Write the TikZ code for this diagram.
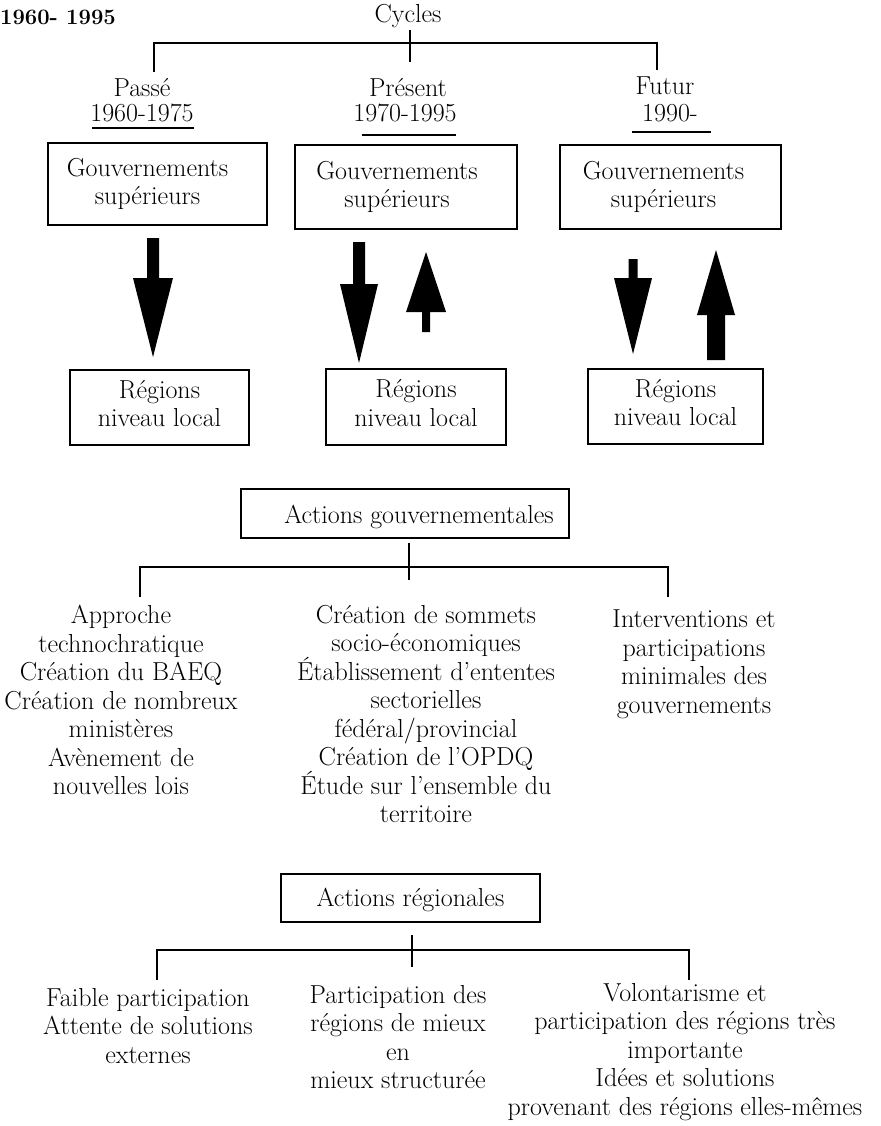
\documentclass[tikz,border=0pt]{standalone}
\usepackage{tikz}
\usetikzlibrary{calc}

\tikzset{
  trait/.style={line width=2.4pt},
  boite/.style={draw,line width=2.4pt,inner sep=0pt},
  texte/.style={align=center,inner sep=0pt},
}
% fleche pleine : x, y du talon, y de la base de la pointe, y de la pointe, largeur du corps, largeur de la pointe
\newcommand{\fleche}[6]{%
  \fill (#1-#5/2,#2) -- (#1+#5/2,#2) -- (#1+#5/2,#3) -- (#1+#6/2,#3)
    -- (#1,#4) -- (#1-#6/2,#3) -- (#1-#5/2,#3) -- cycle;}

\begin{document}
\begin{tikzpicture}[x=1pt,y=-1pt,font=\fontsize{26}{28.5}\selectfont]
\useasboundingbox (0,0) rectangle (880,1126);

\node[texte,anchor=base west,font=\fontsize{22}{24}\selectfont\bfseries] (titre) at (0,25) {1960- 1995};
\node[texte] (cycles) at (408,16) {Cycles};

% les trois cycles
\coordinate (haut) at (410,43);
\coordinate (c1) at (154,72);
\coordinate (c3) at (657,70);
\draw[trait] (c1) -- (c1 |- haut) -- (c3 |- haut) -- (c3);
\draw[trait] (410,30) -- (410,62);

\node[texte] (passe) at (142,88) {Passé};
\node[texte] (d1) at (142,113) {1960-1975};
\node[texte] (present) at (408,88) {Présent};
\node[texte] (d2) at (405,113) {1970-1995};
\node[texte] (futur) at (665,86) {Futur};
\node[texte] (d3) at (670,113) {1990-};
\draw[trait] (92,128) -- (194,128);
\draw[trait] (362,135) -- (456,135);
\draw[trait] (632,132) -- (711,132);

% gouvernements superieurs
\node[boite,minimum width=219,minimum height=82] (gs1) at (157.5,184) {};
\node[texte] (gs1t) at ([xshift=-10pt]gs1.center) {Gouvernements\\supérieurs};
\node[boite,minimum width=222,minimum height=84] (gs2) at (406,187) {};
\node[texte] (gs2t) at ([xshift=-9pt]gs2.center) {Gouvernements\\supérieurs};
\node[boite,minimum width=221,minimum height=84] (gs3) at (670.5,187) {};
\node[texte] (gs3t) at ([xshift=-7pt]gs3.center) {Gouvernements\\supérieurs};

% regions
\node[boite,minimum width=179,minimum height=75] (rl1) at (159.5,407.5) {};
\node[texte] (rl1t) at ([yshift=4pt]rl1.center) {Régions\\niveau local};
\node[boite,minimum width=180,minimum height=76] (rl2) at (416,407) {};
\node[texte] (rl2t) at ([yshift=4pt]rl2.center) {Régions\\niveau local};
\node[boite,minimum width=175,minimum height=75] (rl3) at (675.5,406.5) {};
\node[texte] (rl3t) at ([yshift=4pt]rl3.center) {Régions\\niveau local};

% fleches
\fleche{153}{238}{278}{357}{12}{40}
\fleche{359}{242}{284}{363}{12}{38}
\fleche{426}{332}{312}{252}{8}{40}
\fleche{633}{259}{278}{354}{9}{38}
\fleche{716}{360}{315}{250}{18}{38}

% actions gouvernementales
\node[boite,minimum width=328,minimum height=49] (ag) at (405,513.5) {};
\node[texte] (agt) at ([xshift=14pt,yshift=-3pt]ag.center) {Actions gouvernementales};
\coordinate (ag0) at (409,543);
\coordinate (ag1) at (409,580);
\coordinate (agh) at (409,567);
\coordinate (g1) at (140,597);
\coordinate (g3) at (668,597);
\draw[trait] (ag0) -- (ag1);
\draw[trait] (g1) -- (g1 |- agh) -- (g3 |- agh) -- (g3);

\node[texte,anchor=north] (ga) at (121,605) {Approche\\technochratique\\Création du BAEQ\\Création de nombreux\\ministères\\Avènement de\\nouvelles lois};
\node[texte,anchor=north] (gb) at (426,605) {Création de sommets\\socio-économiques\\Établissement d'ententes\\sectorielles\\fédéral/provincial\\Création de l'OPDQ\\Étude sur l'ensemble du\\territoire};
\node[texte,anchor=north] (gc) at (694,610) {Interventions et\\participations\\minimales des\\gouvernements};

% actions regionales
\node[boite,minimum width=259,minimum height=48] (ar) at (410.5,898) {};
\node[texte] (art) at ([yshift=-2pt]ar.center) {Actions régionales};
\coordinate (ar0) at (412,935);
\coordinate (ar1) at (412,967);
\coordinate (arh) at (412,950);
\coordinate (r1) at (157,980);
\coordinate (r3) at (689,980);
\draw[trait] (ar0) -- (ar1);
\draw[trait] (r1) -- (r1 |- arh) -- (r3 |- arh) -- (r3);

\node[texte,anchor=north] (ra) at (148,988) {Faible participation\\Attente de solutions\\externes};
\node[texte,anchor=north] (rb) at (398,985) {Participation des\\régions de mieux\\en\\mieux structurée};
\node[texte,anchor=north] (rc) at (685,983) {Volontarisme et\\participation des régions très\\importante\\Idées et solutions\\provenant des régions elles-mêmes};
\end{tikzpicture}
\end{document}
